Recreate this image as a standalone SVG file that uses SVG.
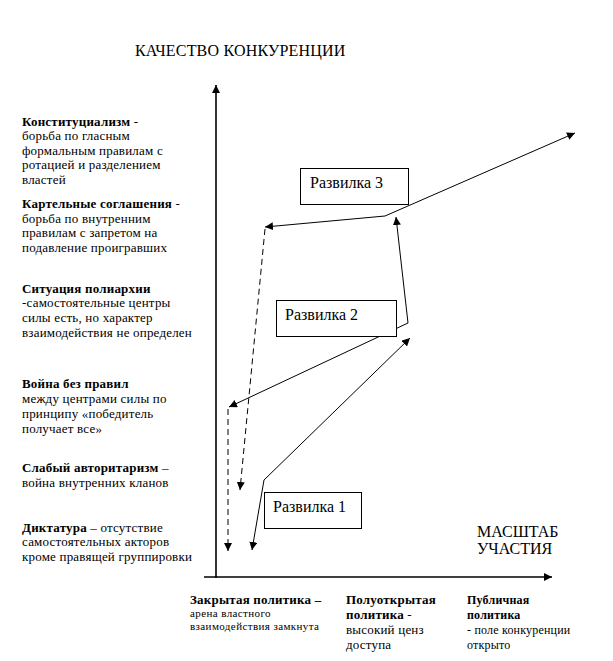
<svg xmlns="http://www.w3.org/2000/svg" width="613" height="661" viewBox="0 0 613 661">
<style>
text{font-family:'Liberation Serif','Times New Roman',serif;fill:#000}
.lbl{font-size:13px;letter-spacing:0.2px}
.b{font-weight:bold}
.s12{font-size:12px}
.s11{font-size:11px;letter-spacing:0.4px}
.ttl{font-size:16px;letter-spacing:0.2px}
.big{font-size:16px}
.box rect{fill:#fff;stroke:#000;stroke-width:1}
.box text{font-size:16px}
.c{fill:none;stroke:#000;stroke-width:1;marker-end:url(#ah)}
.d{stroke-dasharray:6 4}
.ax{fill:none;stroke:#000;stroke-width:1.6;marker-end:url(#ah)}
</style>
<defs>
<marker id="ah" markerUnits="userSpaceOnUse" markerWidth="9" markerHeight="8" refX="8" refY="4" orient="auto">
<path d="M0,0 L8,4 L0,8 z" fill="#000"/>
</marker>
</defs>
<rect width="613" height="661" fill="#fff"/>
<g id="axes">
<path class="ax" d="M216,578 L216,85"/>
<path class="ax" d="M204,577 L552,577"/>
</g>
<text class="ttl" x="135" y="56">КАЧЕСТВО КОНКУРЕНЦИИ</text>
<text class="big" x="477" y="537">МАСШТАБ</text>
<text class="big" x="477" y="554">УЧАСТИЯ</text>
<g id="labels-y" class="lbl">
<text x="22" y="126"><tspan class="b">Конституциализм</tspan> -</text>
<text x="22" y="140">борьба по гласным</text>
<text x="22" y="155">формальным правилам с</text>
<text x="22" y="169">ротацией и разделением</text>
<text x="22" y="184">властей</text>
<text x="22" y="208"><tspan class="b">Картельные соглашения</tspan> -</text>
<text x="22" y="223">борьба по внутренним</text>
<text x="22" y="237">правилам с запретом на</text>
<text x="22" y="252">подавление проигравших</text>
<text x="22" y="293" class="b">Ситуация полиархии</text>
<text x="22" y="307">-самостоятельные центры</text>
<text x="22" y="322">силы есть, но характер</text>
<text x="22" y="337">взаимодействия не определен</text>
<text x="22" y="388" class="b">Война без правил</text>
<text x="22" y="403">между центрами силы по</text>
<text x="22" y="418">принципу «победитель</text>
<text x="22" y="433">получает все»</text>
<text x="22" y="472"><tspan class="b">Слабый авторитаризм</tspan> –</text>
<text x="22" y="487">война внутренних кланов</text>
<text x="22" y="532"><tspan class="b">Диктатура</tspan> – отсутствие</text>
<text x="22" y="546">самостоятельных акторов</text>
<text x="22" y="561">кроме правящей группировки</text>
</g>
<g id="labels-x" class="lbl">
<text x="190" y="604" class="b">Закрытая политика –</text>
<text x="190" y="617" class="s11">арена властного</text>
<text x="190" y="630" class="s11">взаимодействия замкнута</text>
<text x="346" y="604" class="b">Полуоткрытая</text>
<text x="346" y="619"><tspan class="b">политика</tspan> -</text>
<text x="346" y="634">высокий ценз</text>
<text x="346" y="649">доступа</text>
<text x="467" y="604" class="b s12">Публичная</text>
<text x="467" y="619" class="b s12">политика</text>
<text x="467" y="634" class="s12">- поле конкуренции</text>
<text x="467" y="649" class="s12">открыто</text>
</g>
<g id="connectors">
<path class="c" d="M264,480 L252,550"/>
<path class="c" d="M264,480 L410,338"/>
<path class="c" d="M408,323 L229,407"/>
<path class="c" d="M408,323 L396,217"/>
<path class="c d" d="M228,409 L228,551"/>
<path class="c" d="M385,216 L575,133"/>
<path class="c" d="M385,216 L265,227"/>
<path class="c d" d="M265,229 L240,490"/>
</g>
<g id="fork3" class="box">
<rect x="300.5" y="168.5" width="108" height="36"/>
<text x="310" y="188">Развилка 3</text>
</g>
<g id="fork2" class="box">
<rect x="276.5" y="300.5" width="120" height="36"/>
<text x="285" y="320">Развилка 2</text>
</g>
<g id="fork1" class="box">
<rect x="264.5" y="492.5" width="97" height="36"/>
<text x="273" y="512">Развилка 1</text>
</g>
</svg>
